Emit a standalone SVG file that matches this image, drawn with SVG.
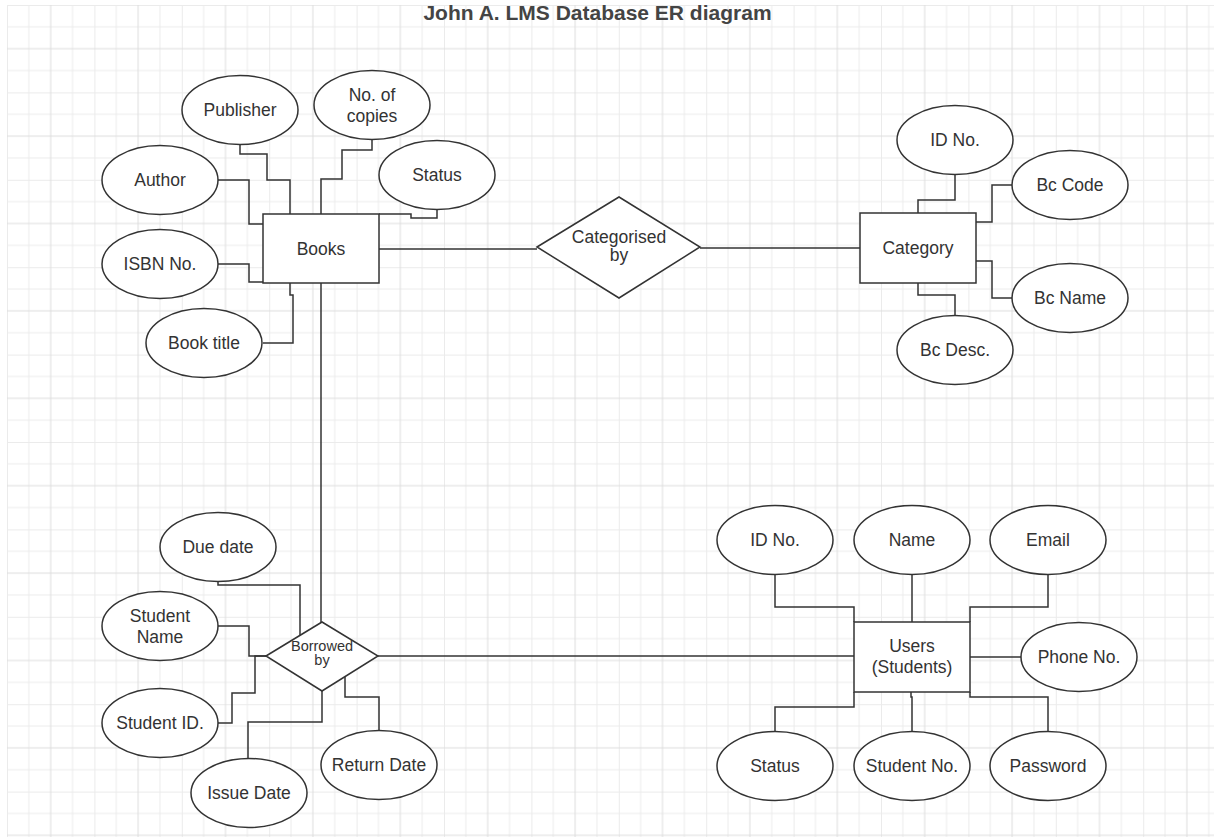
<svg xmlns="http://www.w3.org/2000/svg" width="1214" height="837" viewBox="0 0 1214 837">
<style>
.shape{fill:#ffffff;stroke:#333333;stroke-width:1.5}
.conn{fill:none;stroke:#333333;stroke-width:1.5}
.lbl{font-family:"Liberation Sans",Arial,sans-serif;font-size:17.5px;fill:#333333;text-anchor:middle}
.small{font-size:14.5px}
.title{font-family:"Liberation Sans",Arial,sans-serif;font-size:21px;font-weight:bold;fill:#444444;text-anchor:middle}
</style>
<defs>
<pattern id="grid" x="7" y="5" width="87.4" height="87.4" patternUnits="userSpaceOnUse">
<path d="M0.5 0V87.4M21.85 0V87.4M65.55 0V87.4M0 0.5H87.4M0 21.85H87.4M0 65.55H87.4" stroke="#ebebeb" stroke-width="1" fill="none"/>
<path d="M43.7 0V87.4M0 43.7H87.4" stroke="#dddddd" stroke-width="1" fill="none"/>
</pattern>
</defs>
<rect x="0" y="0" width="1214" height="837" fill="#ffffff"/>
<rect x="7" y="5" width="1207" height="832" fill="url(#grid)"/>
<text class="title" x="597.5" y="20">John A. LMS Database ER diagram</text>

<g id="connectors">
<path class="conn" d="M240,144 V154 H267 V180 H290 V214"/>
<path class="conn" d="M372,140 V150 H342 V179 H321 V214"/>
<path class="conn" d="M218,180 H249 V224 H263"/>
<path class="conn" d="M379,214 H411 V218 H437 V210"/>
<path class="conn" d="M218,264 H249 V282 H263"/>
<path class="conn" d="M263,343 H293 V295 H290 V283"/>
<path class="conn" d="M379,249 H537"/>
<path class="conn" d="M321,283 V622"/>
<path class="conn" d="M700,248 H860"/>
<path class="conn" d="M955,174 V200 H918 V213"/>
<path class="conn" d="M976,222 H992 V185 H1013"/>
<path class="conn" d="M976,261 H992 V298 H1013"/>
<path class="conn" d="M918,283 V295 H955 V316"/>
<path class="conn" d="M218,582 V585 H300 V635"/>
<path class="conn" d="M218,626 H249 V656 H266"/>
<path class="conn" d="M218,723 H232 V693 H255 V656 H266"/>
<path class="conn" d="M322,691 V722 H248 V758"/>
<path class="conn" d="M345,677 V697 H379 V730"/>
<path class="conn" d="M378,656 H854"/>
<path class="conn" d="M775,574 V607 H854 V622"/>
<path class="conn" d="M912,574 V622"/>
<path class="conn" d="M1048,574 V607 H970 V622"/>
<path class="conn" d="M970,657 H1021"/>
<path class="conn" d="M854,692 V707 H775 V732"/>
<path class="conn" d="M911,692 V697 H912 V732"/>
<path class="conn" d="M970,692 V697 H1048 V732"/>
</g>

<g id="books"><rect class="shape" x="263" y="214" width="116" height="69"/><text class="lbl" x="321" y="255">Books</text></g>
<g id="publisher"><ellipse class="shape" cx="240" cy="110" rx="58" ry="34.5"/><text class="lbl" x="240" y="116">Publisher</text></g>
<g id="copies"><ellipse class="shape" cx="372" cy="105" rx="58" ry="34.5"/><text class="lbl" x="372" y="101">No. of</text><text class="lbl" x="372" y="122">copies</text></g>
<g id="author"><ellipse class="shape" cx="160" cy="180" rx="58" ry="34.5"/><text class="lbl" x="160" y="186">Author</text></g>
<g id="book-status"><ellipse class="shape" cx="437" cy="175" rx="58" ry="34.5"/><text class="lbl" x="437" y="181">Status</text></g>
<g id="isbn"><ellipse class="shape" cx="160" cy="264" rx="58" ry="34.5"/><text class="lbl" x="160" y="270">ISBN No.</text></g>
<g id="book-title"><ellipse class="shape" cx="204" cy="343" rx="58" ry="34.5"/><text class="lbl" x="204" y="349">Book title</text></g>

<g id="categorised-by"><polygon class="shape" points="537,247 619,197 700,247 619,298"/><text class="lbl" x="619" y="243">Categorised</text><text class="lbl" x="619" y="261">by</text></g>

<g id="category"><rect class="shape" x="860" y="213" width="116" height="70"/><text class="lbl" x="918" y="254">Category</text></g>
<g id="cat-id"><ellipse class="shape" cx="955" cy="140" rx="58" ry="34.5"/><text class="lbl" x="955" y="146">ID No.</text></g>
<g id="bc-code"><ellipse class="shape" cx="1070" cy="185" rx="58" ry="34.5"/><text class="lbl" x="1070" y="191">Bc Code</text></g>
<g id="bc-name"><ellipse class="shape" cx="1070" cy="298" rx="58" ry="34.5"/><text class="lbl" x="1070" y="304">Bc Name</text></g>
<g id="bc-desc"><ellipse class="shape" cx="955" cy="350" rx="58" ry="34.5"/><text class="lbl" x="955" y="356">Bc Desc.</text></g>

<g id="borrowed-by"><polygon class="shape" points="266,656 322,622 378,656 322,691"/><text class="lbl small" x="322" y="651">Borrowed</text><text class="lbl small" x="322" y="665">by</text></g>
<g id="due-date"><ellipse class="shape" cx="218" cy="547" rx="58" ry="34.5"/><text class="lbl" x="218" y="553">Due date</text></g>
<g id="student-name"><ellipse class="shape" cx="160" cy="626" rx="58" ry="34.5"/><text class="lbl" x="160" y="622">Student</text><text class="lbl" x="160" y="643">Name</text></g>
<g id="student-id"><ellipse class="shape" cx="160" cy="723" rx="58" ry="34.5"/><text class="lbl" x="160" y="729">Student ID.</text></g>
<g id="issue-date"><ellipse class="shape" cx="249" cy="793" rx="58" ry="34.5"/><text class="lbl" x="249" y="799">Issue Date</text></g>
<g id="return-date"><ellipse class="shape" cx="379" cy="765" rx="58" ry="34.5"/><text class="lbl" x="379" y="771">Return Date</text></g>

<g id="users"><rect class="shape" x="854" y="622" width="116" height="70"/><text class="lbl" x="912" y="652">Users</text><text class="lbl" x="912" y="673">(Students)</text></g>
<g id="user-id"><ellipse class="shape" cx="775" cy="540" rx="58" ry="34.5"/><text class="lbl" x="775" y="546">ID No.</text></g>
<g id="user-name"><ellipse class="shape" cx="912" cy="540" rx="58" ry="34.5"/><text class="lbl" x="912" y="546">Name</text></g>
<g id="user-email"><ellipse class="shape" cx="1048" cy="540" rx="58" ry="34.5"/><text class="lbl" x="1048" y="546">Email</text></g>
<g id="user-phone"><ellipse class="shape" cx="1079" cy="657" rx="58" ry="34.5"/><text class="lbl" x="1079" y="663">Phone No.</text></g>
<g id="user-status"><ellipse class="shape" cx="775" cy="766" rx="58" ry="34.5"/><text class="lbl" x="775" y="772">Status</text></g>
<g id="student-no"><ellipse class="shape" cx="912" cy="766" rx="58" ry="34.5"/><text class="lbl" x="912" y="772">Student No.</text></g>
<g id="password"><ellipse class="shape" cx="1048" cy="766" rx="58" ry="34.5"/><text class="lbl" x="1048" y="772">Password</text></g>
</svg>
